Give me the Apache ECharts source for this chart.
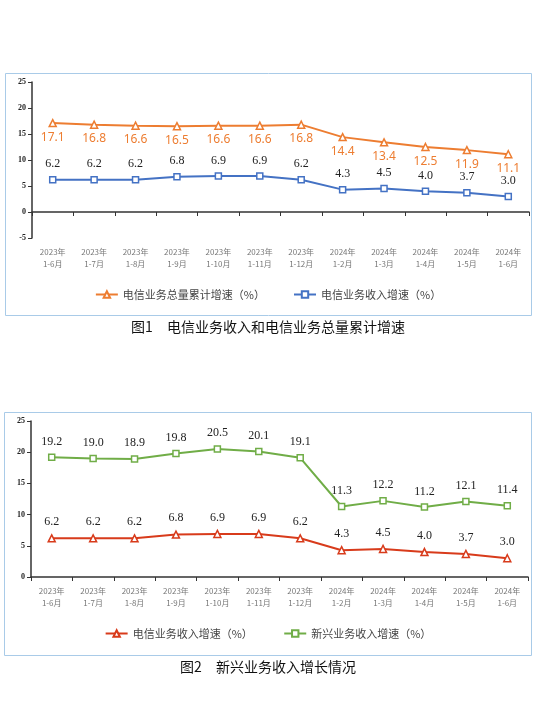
<!DOCTYPE html><html><head><meta charset="utf-8">
<script src="https://cdn.jsdelivr.net/npm/echarts@6/dist/echarts.min.js"></script>
<style>html,body{margin:0;background:#fff}#c{width:536px;height:715px}</style></head><body><div id="c"></div>
<script>
const categories=['2023年\n1-6月','2023年\n1-7月','2023年\n1-8月','2023年\n1-9月','2023年\n1-10月','2023年\n1-11月','2023年\n1-12月','2024年\n1-2月','2024年\n1-3月','2024年\n1-4月','2024年\n1-5月','2024年\n1-6月'];
const totalVolumeGrowth=[17.1,16.8,16.6,16.5,16.6,16.6,16.8,14.4,13.4,12.5,11.9,11.1];
const revenueGrowth=[6.2,6.2,6.2,6.8,6.9,6.9,6.2,4.3,4.5,4.0,3.7,3.0];
const emergingGrowth=[19.2,19.0,18.9,19.8,20.5,20.1,19.1,11.3,12.2,11.2,12.1,11.4];
const serif='"Liberation Serif","DejaVu Serif",serif';
const cjk='"Noto Sans CJK SC",sans-serif';
const xa=(gi)=>({type:'category',gridIndex:gi,data:categories,axisLine:{lineStyle:{color:'#333',width:1.5}},axisTick:{show:true,length:4,lineStyle:{color:'#333'}},axisLabel:{color:'#777',fontSize:8,fontFamily:cjk,lineHeight:12,margin:8}});
const ya=(gi,min)=>({type:'value',gridIndex:gi,min:min,max:25,interval:5,axisLine:{show:true,lineStyle:{color:'#333',width:1.5}},axisTick:{show:true,length:4,lineStyle:{color:'#333'}},splitLine:{show:false},axisLabel:{color:'#222',fontSize:8,fontFamily:serif,fontWeight:'bold',margin:6}});
const fmt=p=>Number(p.value).toFixed(1);
const lbl=(color,font,size)=>({show:true,position:'top',distance:6,color:color,fontFamily:font,fontSize:size,formatter:fmt});
const chart=echarts.init(document.getElementById('c'));
chart.setOption({
animation:false,
graphic:[
{type:'rect',shape:{x:5.5,y:73.5,width:526,height:242},style:{fill:'none',stroke:'#a9cbe8',lineWidth:1}},
{type:'rect',shape:{x:4.5,y:412.5,width:527,height:243},style:{fill:'none',stroke:'#a9cbe8',lineWidth:1}},
{type:'text',left:'center',top:320,style:{text:'图1　电信业务收入和电信业务总量累计增速',font:'14px "Noto Sans CJK SC"',fill:'#111'}},
{type:'text',left:'center',top:660,style:{text:'图2　新兴业务收入增长情况',font:'14px "Noto Sans CJK SC"',fill:'#111'}}
],
legend:[
{top:284,left:'center',itemGap:28,itemWidth:22,itemHeight:8,textStyle:{fontFamily:cjk,fontSize:11,color:'#444'},data:['电信业务总量累计增速（%）','电信业务收入增速（%）']},
{top:623,left:'center',itemGap:28,itemWidth:22,itemHeight:8,textStyle:{fontFamily:cjk,fontSize:11,color:'#444'},data:['电信业务收入增速（%） ','新兴业务收入增速（%）']}
],
grid:[{left:32,right:7,top:82,height:156},{left:31,right:8,top:421,height:156}],
xAxis:[xa(0),xa(1)],
yAxis:[ya(0,-5),ya(1,0)],
series:[
{name:'电信业务总量累计增速（%）',type:'line',xAxisIndex:0,yAxisIndex:0,data:totalVolumeGrowth,symbol:'triangle',symbolSize:7,itemStyle:{color:'#fff',borderColor:'#ed7d31',borderWidth:1.5},lineStyle:{color:'#ed7d31',width:2},label:Object.assign(lbl('#ed7d31','"Noto Sans",sans-serif',12),{position:'bottom',distance:4})},
{name:'电信业务收入增速（%）',type:'line',xAxisIndex:0,yAxisIndex:0,data:revenueGrowth,symbol:'rect',symbolSize:6,itemStyle:{color:'#fff',borderColor:'#4472c4',borderWidth:1.5},lineStyle:{color:'#4472c4',width:2},label:lbl('#222',serif,12)},
{name:'电信业务收入增速（%） ',type:'line',xAxisIndex:1,yAxisIndex:1,data:revenueGrowth,symbol:'triangle',symbolSize:7,itemStyle:{color:'#fff',borderColor:'#d83b1b',borderWidth:1.5},lineStyle:{color:'#d83b1b',width:2},label:lbl('#222',serif,12)},
{name:'新兴业务收入增速（%）',type:'line',xAxisIndex:1,yAxisIndex:1,data:emergingGrowth,symbol:'rect',symbolSize:6,itemStyle:{color:'#fff',borderColor:'#70ad47',borderWidth:1.5},lineStyle:{color:'#70ad47',width:2},label:lbl('#222',serif,12)}
]});
</script></body></html>
